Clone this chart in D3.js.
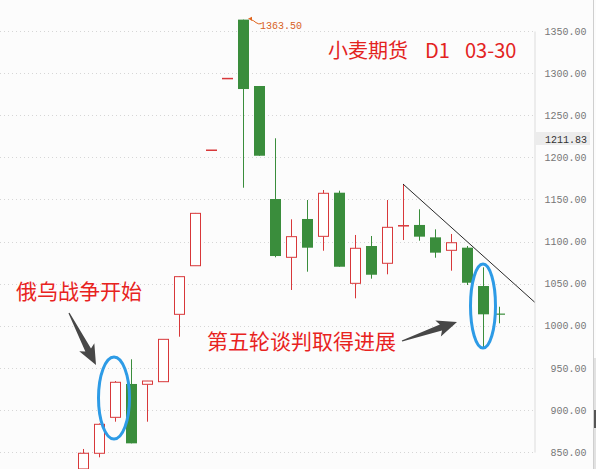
<!DOCTYPE html>
<html>
<head>
<meta charset="utf-8">
<script src="https://cdn.jsdelivr.net/npm/d3@7"></script>
<style>
body { margin: 0; background: #fcfcfc; }
svg { display: block; }
</style>
</head>
<body>
<script>
// daily wheat futures, 2022-02-22 .. 2022-03-30
var dates = ['02-22', '02-23', '02-24', '02-25', '02-28', '03-01', '03-02', '03-03', '03-04',
  '03-07', '03-08', '03-09', '03-10', '03-11', '03-14', '03-15', '03-16', '03-17', '03-18',
  '03-21', '03-22', '03-23', '03-24', '03-25', '03-28', '03-29', '03-30'];
var opens = [830, 848.6, 891.3, 930.9, 930.5, 933.6, 1013.6, 1071.3, 1208.5,
  1293.5, 1363.5, 1284.7, 1150.5, 1081.3, 1126.8, 1106.2, 1158, 1050.4, 1094.7,
  1074.2, 1118.5, 1119.7, 1105, 1089.6, 1092.7, 1047.2, 1014.5];
var highs = [853.7, 884, 934.4, 960.2, 934.5, 984, 1059, 1134, 1208.7,
  1293.8, 1363.5, 1284.7, 1222.6, 1126.4, 1149.3, 1161.2, 1160.4, 1107.8, 1106.6,
  1149.3, 1168.3, 1138.3, 1114.5, 1109, 1094.7, 1069.4, 1022.6];
var lows = [825, 843.8, 886.1, 860.4, 886.1, 933.2, 987, 1071, 1208.5,
  1293.5, 1163.9, 1201.9, 1081.3, 1042.5, 1064.2, 1089.1, 1070.1, 1032.6, 1055.9,
  1061.1, 1101.8, 1101, 1080.8, 1065.4, 1048.4, 973.2, 1002.9];
var closes = [848.6, 883, 932.9, 860.4, 934.4, 983.9, 1058.3, 1133.5, 1208.7,
  1293.8, 1281.1, 1201.9, 1082.8, 1105.8, 1092.7, 1157.3, 1070.1, 1092, 1060.6,
  1116.9, 1119, 1105.8, 1086.8, 1098.6, 1051.1, 1013.6, 1014];
var yTicks = [850, 900, 950, 1000, 1050, 1100, 1150, 1200, 1250, 1300, 1350];
var lastPrice = 1211.83;
var trendDates = ['03-22', '03-30'];
var trendPrices = [1168.3, 1066];
var titleParts = ['小麦期货', 'D1', '03-30'];

var W = 596, H = 469;
var axisX = 534.5;
var red = '#d8383a', green = '#3a8d3c';

var svg = d3.select('body').append('svg').attr('width', W).attr('height', H);
svg.append('rect').attr('width', W).attr('height', H).attr('fill', '#fcfcfc');

var x = d3.scalePoint().domain(dates).range([83, 499]);
var y = d3.scaleLinear().domain([850, 1350]).range([452.1, 31]);

// grid
svg.append('g').selectAll('line').data(yTicks).join('line')
  .attr('x1', 0).attr('x2', axisX)
  .attr('y1', function(d) { return Math.round(y(d)) + 0.5; })
  .attr('y2', function(d) { return Math.round(y(d)) + 0.5; })
  .attr('stroke', '#d6d6d6').attr('stroke-dasharray', '1,3');

// price axis
var axis = d3.axisRight(y).tickValues(yTicks).tickSize(0)
  .tickFormat(function(d) { return d.toFixed(2); });
var ag = svg.append('g').attr('transform', 'translate(' + axisX + ',0)').call(axis);
ag.select('.domain').attr('stroke', '#dcdcdc');
ag.selectAll('text').attr('x', 52).attr('text-anchor', 'end')
  .attr('font-family', 'Liberation Mono').attr('font-size', 10).attr('fill', '#777');
svg.append('line').attr('x1', 593.5).attr('x2', 593.5).attr('y1', 0).attr('y2', H)
  .attr('stroke', '#cfcfcf');
svg.append('rect').attr('x', 594).attr('y', 358).attr('width', 2).attr('height', 111).attr('fill', '#e2e2e2');
svg.append('rect').attr('x', 594).attr('y', 410).attr('width', 2).attr('height', 18).attr('fill', '#555');

// last price tag
svg.append('rect').attr('x', 536).attr('y', 132).attr('width', 54).attr('height', 13).attr('fill', '#ececec');
svg.append('text').attr('x', 587).attr('y', 142.5).attr('text-anchor', 'end')
  .attr('font-family', 'Liberation Mono').attr('font-size', 10).attr('fill', '#333')
  .text(lastPrice.toFixed(2));

// candles
var candles = dates.map(function(d, i) {
  return { date: d, o: opens[i], h: highs[i], l: lows[i], c: closes[i] };
});
var cg = svg.append('g').selectAll('g').data(candles).join('g');
cg.each(function(d) {
  var g = d3.select(this);
  var cx = x(d.date);
  var up = d.c >= d.o;
  var col = up ? red : green;
  var top = y(Math.max(d.o, d.c)), bot = y(Math.min(d.o, d.c));
  if (up) {
    g.append('line').attr('x1', cx + 0.5).attr('x2', cx + 0.5)
      .attr('y1', y(d.h)).attr('y2', top).attr('stroke', col);
    g.append('line').attr('x1', cx + 0.5).attr('x2', cx + 0.5)
      .attr('y1', bot).attr('y2', y(d.l)).attr('stroke', col);
    g.append('rect').attr('x', cx - 4.5).attr('y', top)
      .attr('width', 10).attr('height', Math.max(bot - top, 0.5))
      .attr('fill', '#fff').attr('stroke', col);
  } else {
    g.append('line').attr('x1', cx + 0.5).attr('x2', cx + 0.5)
      .attr('y1', y(d.h)).attr('y2', y(d.l)).attr('stroke', col);
    g.append('rect').attr('x', cx - 5).attr('y', top)
      .attr('width', 11).attr('height', Math.max(bot - top, 1.2))
      .attr('fill', col);
  }
});

// high marker
var hiIdx = d3.maxIndex(highs);
var hx = x(dates[hiIdx]) + 5, hy = y(highs[hiIdx]);
svg.append('path').attr('d', 'M' + hx + ',' + (hy - 1) + ' l4,-2 l0,4 z').attr('fill', '#e0641c');
svg.append('path').attr('d', 'M' + (hx + 3) + ',' + hy + ' q3,1 5,3 q3,2 5,1')
  .attr('fill', 'none').attr('stroke', '#e0641c');
svg.append('text').attr('x', hx + 12).attr('y', hy + 9)
  .attr('font-family', 'Liberation Mono').attr('font-size', 10).attr('fill', '#d8621e')
  .text(highs[hiIdx].toFixed(2));

// trend line
var tx1 = x(trendDates[0]), ty1 = y(trendPrices[0]);
var tx2 = x(trendDates[1]), ty2 = y(trendPrices[1]);
var slope = (ty2 - ty1) / (tx2 - tx1);
svg.append('line').attr('x1', tx1).attr('y1', ty1)
  .attr('x2', axisX).attr('y2', ty1 + slope * (axisX - tx1))
  .attr('stroke', '#111').attr('stroke-width', 0.9);

// title
var titleX = [328, 425, 465];
svg.append('g').selectAll('text').data(titleParts).join('text')
  .attr('x', function(d, i) { return titleX[i]; }).attr('y', 58)
  .attr('font-family', 'Noto Sans CJK SC').attr('font-size', 20).attr('fill', '#e3241f')
  .text(function(d) { return d; });

// annotations
function arrow(x0, y0, x1, y1) {
  var dx = x1 - x0, dy = y1 - y0, L = Math.hypot(dx, dy);
  var ux = dx / L, uy = dy / L, nx = -uy, ny = ux;
  var hl = 17, sw = 3.2, hw = 8.5;
  function p(a, b) { return [x0 + ux * a + nx * b, y0 + uy * a + ny * b]; }
  var pts = [p(0, 0.6), p(L - hl, sw), p(L - hl - 3, hw), p(L, 0), p(L - hl - 3, -hw), p(L - hl, -sw), p(0, -0.6)];
  svg.append('path').attr('d', d3.line()(pts) + 'Z').attr('fill', '#474747');
}
arrow(69, 313, 96, 365);
arrow(402, 341, 457, 322);

svg.append('ellipse').attr('cx', x('02-24') - 1).attr('cy', 398).attr('rx', 15.5).attr('ry', 41)
  .attr('fill', 'none').attr('stroke', '#2d9be6').attr('stroke-width', 3);
svg.append('ellipse').attr('cx', x('03-29')).attr('cy', 306).attr('rx', 12.5).attr('ry', 42)
  .attr('fill', 'none').attr('stroke', '#2d9be6').attr('stroke-width', 3);

svg.append('text').attr('x', 16).attr('y', 299)
  .attr('font-family', 'Noto Sans CJK SC').attr('font-size', 21).attr('fill', '#e8231e')
  .text('俄乌战争开始');
svg.append('text').attr('x', 207).attr('y', 349)
  .attr('font-family', 'Noto Sans CJK SC').attr('font-size', 21).attr('fill', '#e8231e')
  .text('第五轮谈判取得进展');
</script>
</body>
</html>
